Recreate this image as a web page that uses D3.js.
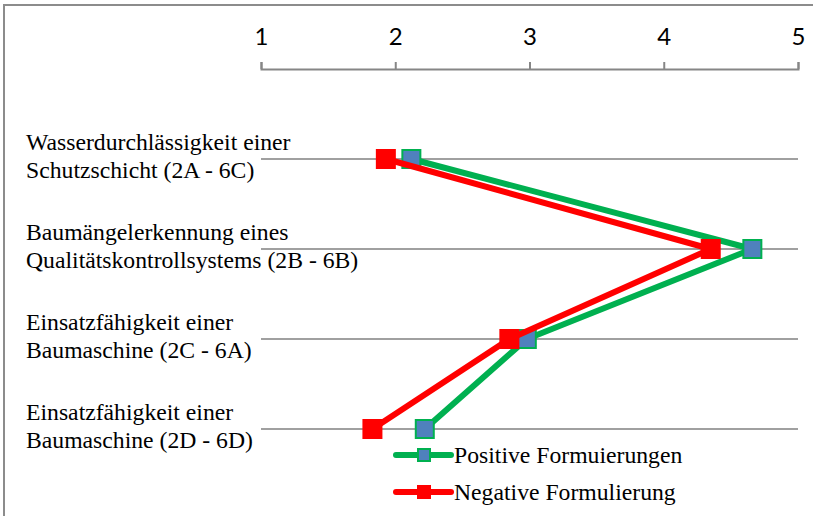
<!DOCTYPE html>
<html>
<head>
<meta charset="utf-8">
<script src="https://cdn.jsdelivr.net/npm/d3@7"></script>
<style>
  html, body { margin: 0; padding: 0; background: #fff; }
  svg { display: block; }
  .serif { font-family: "Liberation Serif", "Times New Roman", "DejaVu Serif", "Noto Serif", serif; }
</style>
</head>
<body>
<svg id="chart" width="813" height="516"></svg>
<script>
// ---- Data ----
const categories = [
  ["Wasserdurchlässigkeit einer", "Schutzschicht (2A - 6C)"],
  ["Baumängelerkennung eines", "Qualitätskontrollsystems (2B - 6B)"],
  ["Einsatzfähigkeit einer", "Baumaschine (2C - 6A)"],
  ["Einsatzfähigkeit einer", "Baumaschine (2D - 6D)"]
];
const positiveValues = [2.12, 4.66, 2.98, 2.22];
const negativeValues = [1.93, 4.35, 2.85, 1.83];
const seriesNames = ["Positive Formuierungen", "Negative Formulierung"];
const tickValues = [1, 2, 3, 4, 5];

const series = [
  { name: seriesNames[0], values: positiveValues, line: "#00B050", fill: "#4F81BD", stroke: "#00B050" },
  { name: seriesNames[1], values: negativeValues, line: "#FF0000", fill: "#FF0000", stroke: "#FF0000" }
];

const svg = d3.select("#chart");

// Chart border (top + left)
svg.append("path")
  .attr("d", "M4,516V5H813")
  .attr("fill", "none")
  .attr("stroke", "#8C8C8C")
  .attr("stroke-width", 2);

const x = d3.scaleLinear().domain([1, 5]).range([261, 798]);
const keys = categories.map((c, i) => i);
const y = d3.scalePoint().domain(keys).range([159, 429]);

// Gridlines
svg.append("g").selectAll("line").data(keys).join("line")
  .attr("x1", x(1)).attr("x2", x(5))
  .attr("y1", d => y(d)).attr("y2", d => y(d))
  .attr("stroke", "#A0A0A0").attr("stroke-width", 2);

// Top axis
const axis = svg.append("g")
  .attr("transform", "translate(0,69)")
  .call(d3.axisTop(x).tickValues(tickValues).tickFormat(d3.format("d"))
    .tickSize(7).tickSizeOuter(7).tickPadding(17));
axis.select(".domain").attr("stroke", "#868686").attr("stroke-width", 2);
axis.selectAll(".tick line").attr("stroke", "#868686").attr("stroke-width", 2);
axis.selectAll(".tick text")
  .attr("font-family", "Lato, 'Open Sans', sans-serif")
  .attr("font-size", 24)
  .attr("fill", "#000");

// Category labels
const lab = svg.append("g").selectAll("text").data(categories).join("text")
  .attr("class", "serif")
  .attr("font-size", 23.7)
  .attr("fill", "#000");
lab.append("tspan").attr("x", 26).attr("y", (d, i) => y(i) - 9).text(d => d[0]);
lab.append("tspan").attr("x", 26).attr("y", (d, i) => y(i) + 19).text(d => d[1]);

// Lines and markers (green first, red on top)
const line = d3.line().x(d => x(d.v)).y(d => y(d.i));
const msz = 18;
series.forEach(s => {
  const pts = s.values.map((v, i) => ({ v, i }));
  svg.append("path").datum(pts)
    .attr("d", line)
    .attr("fill", "none")
    .attr("stroke", s.line)
    .attr("stroke-width", 6)
    .attr("stroke-linejoin", "round");
  svg.append("g").selectAll("rect").data(pts).join("rect")
    .attr("x", d => x(d.v) - msz / 2)
    .attr("y", d => y(d.i) - msz / 2)
    .attr("width", msz).attr("height", msz)
    .attr("fill", s.fill)
    .attr("stroke", s.stroke)
    .attr("stroke-width", 2);
});

// Legend
const legY = [455, 492];
const lg = svg.append("g").selectAll("g").data(series).join("g")
  .attr("transform", (d, i) => `translate(0,${legY[i]})`);
lg.append("line")
  .attr("x1", 396).attr("x2", 451).attr("y1", 0).attr("y2", 0)
  .attr("stroke", d => d.line).attr("stroke-width", 6).attr("stroke-linecap", "round");
lg.append("rect")
  .attr("x", 418).attr("y", -6).attr("width", 12).attr("height", 12)
  .attr("fill", d => d.fill).attr("stroke", d => d.stroke).attr("stroke-width", 2);
lg.append("text")
  .attr("class", "serif")
  .attr("x", 454).attr("y", 8)
  .attr("font-size", 23.7)
  .attr("fill", "#000")
  .text(d => d.name);
</script>
</body>
</html>
